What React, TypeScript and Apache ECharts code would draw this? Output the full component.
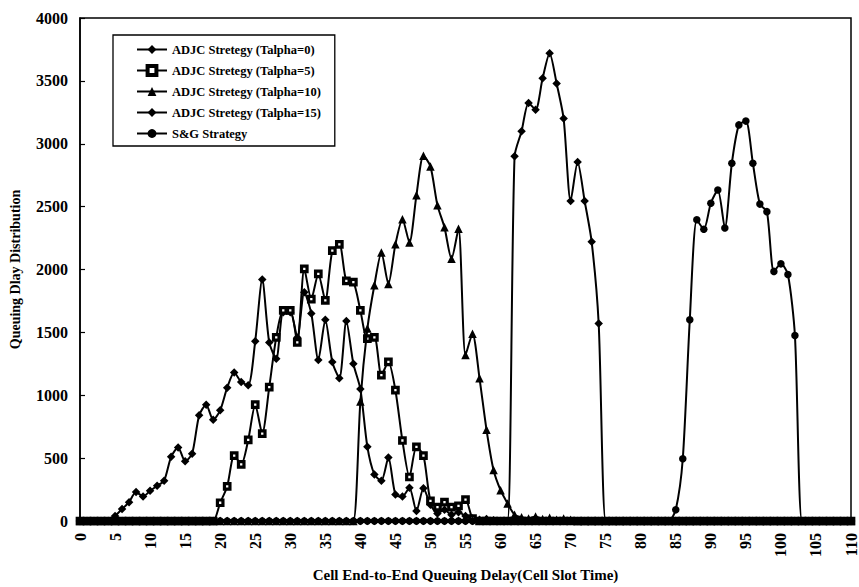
import React, { useEffect, useRef } from "react";
import * as echarts from "echarts";

// Cell end-to-end queuing delay (cell slot time), 0..110
const delays: number[] = Array.from({ length: 111 }, (_, i) => i);

const xTicks = { min: 0, max: 110, interval: 5 };
const yTicks = { min: 0, max: 4000, interval: 500 };

const seriesNames = [
  "ADJC Stretegy (Talpha=0)",
  "ADJC Stretegy (Talpha=5)",
  "ADJC Stretegy (Talpha=10)",
  "ADJC Stretegy (Talpha=15)",
  "S&G Strategy",
];

const talpha0 = [
  0, 0, 0, 0, 0, 40, 95, 150, 230, 195,
  240, 280, 320, 510, 585, 475, 535, 840, 925, 805,
  880, 1060, 1180, 1105, 1080, 1430, 1920, 1420, 1290, 1660,
  1660, 1460, 1820, 1650, 1280, 1600, 1265, 1135, 1590, 1250,
  1050, 590, 370, 320, 505, 210, 195, 265, 80, 260,
  130, 60, 90, 50, 70, 40, 20, 10, 15, 5,
  0, 0, 0, 0, 0, 0, 0, 0, 0, 0,
  0, 0, 0, 0, 0, 0, 0, 0, 0, 0,
  0, 0, 0, 0, 0, 0, 0, 0, 0, 0,
  0, 0, 0, 0, 0, 0, 0, 0, 0, 0,
  0, 0, 0, 0, 0, 0, 0, 0, 0, 0,
  0,
];

const talpha5 = [
  0, 0, 0, 0, 0, 0, 0, 0, 0, 0,
  0, 0, 0, 0, 0, 0, 0, 0, 0, 0,
  145, 275, 520, 450, 645, 925, 695, 1065, 1460, 1675,
  1675, 1420, 2005, 1765, 1965, 1755, 2150, 2200, 1910, 1900,
  1675, 1450, 1460, 1160, 1265, 1040, 640, 350, 590, 520,
  160, 110, 150, 110, 120, 170, 20, 0, 0, 0,
  0, 0, 0, 0, 0, 0, 0, 0, 0, 0,
  0, 0, 0, 0, 0, 0, 0, 0, 0, 0,
  0, 0, 0, 0, 0, 0, 0, 0, 0, 0,
  0, 0, 0, 0, 0, 0, 0, 0, 0, 0,
  0, 0, 0, 0, 0, 0, 0, 0, 0, 0,
  0,
];

const talpha10 = [
  0, 0, 0, 0, 0, 0, 0, 0, 0, 0,
  0, 0, 0, 0, 0, 0, 0, 0, 0, 0,
  0, 0, 0, 0, 0, 0, 0, 0, 0, 0,
  0, 0, 0, 0, 0, 0, 0, 0, 0, 0,
  950, 1530, 1875, 2135, 1885, 2200, 2400, 2215, 2590, 2905,
  2820, 2510, 2335, 2085, 2325, 1320, 1490, 1135, 725, 405,
  245, 140, 50, 30, 20, 35, 15, 25, 10, 20,
  10, 0, 0, 0, 0, 0, 0, 0, 0, 0,
  0, 0, 0, 0, 0, 0, 0, 0, 0, 0,
  0, 0, 0, 0, 0, 0, 0, 0, 0, 0,
  0, 0, 0, 0, 0, 0, 0, 0, 0, 0,
  0,
];

const talpha15 = [
  0, 0, 0, 0, 0, 0, 0, 0, 0, 0,
  0, 0, 0, 0, 0, 0, 0, 0, 0, 0,
  0, 0, 0, 0, 0, 0, 0, 0, 0, 0,
  0, 0, 0, 0, 0, 0, 0, 0, 0, 0,
  0, 0, 0, 0, 0, 0, 0, 0, 0, 0,
  0, 0, 0, 0, 0, 0, 0, 0, 0, 0,
  0, 0, 2900, 3100, 3325, 3270, 3520, 3720, 3480, 3200,
  2545, 2855, 2545, 2220, 1570, 0, 0, 0, 0, 0,
  0, 0, 0, 0, 0, 0, 0, 0, 0, 0,
  0, 0, 0, 0, 0, 0, 0, 0, 0, 0,
  0, 0, 0, 0, 0, 0, 0, 0, 0, 0,
  0,
];

const sgStrategy = [
  0, 0, 0, 0, 0, 0, 0, 0, 0, 0,
  0, 0, 0, 0, 0, 0, 0, 0, 0, 0,
  0, 0, 0, 0, 0, 0, 0, 0, 0, 0,
  0, 0, 0, 0, 0, 0, 0, 0, 0, 0,
  0, 0, 0, 0, 0, 0, 0, 0, 0, 0,
  0, 0, 0, 0, 0, 0, 0, 0, 0, 0,
  0, 0, 0, 0, 0, 0, 0, 0, 0, 0,
  0, 0, 0, 0, 0, 0, 0, 0, 0, 0,
  0, 0, 0, 0, 0, 90, 495, 1600, 2395, 2320,
  2527, 2632, 2330, 2845, 3150, 3180, 2845, 2520, 2460, 1985,
  2045, 1960, 1475, 0, 0, 0, 0, 0, 0, 0,
  0,
];

const allValues = [talpha0, talpha5, talpha10, talpha15, sgStrategy];
const symbols = ["diamond", "rect", "triangle", "diamond", "circle"];

const FONT = "'Liberation Serif', 'Times New Roman', serif";

export default function App() {
  const ref = useRef<HTMLDivElement>(null);

  useEffect(() => {
    if (!ref.current) return;
    const chart = echarts.init(ref.current, undefined, { renderer: "svg" });

    const series = allValues.map((vals, i) => {
      const isSquare = symbols[i] === "rect";
      return {
        name: seriesNames[i],
        type: "line",
        data: delays.map((d, k) => [d, vals[k]]),
        symbol: symbols[i],
        symbolSize: isSquare ? 5.5 : symbols[i] === "circle" ? 7.5 : 8.5,
        showSymbol: true,
        showAllSymbol: true,
        smooth: 0.25,
        lineStyle: { color: "#000", width: 2 },
        itemStyle: isSquare
          ? { color: "#fff", borderColor: "#000", borderWidth: 3.2 }
          : { color: "#000", borderColor: "#000", borderWidth: 0 },
        emphasis: { disabled: true },
        z: 2 + i,
      };
    });

    const legendData = seriesNames.map((name, i) =>
      symbols[i] === "rect"
        ? { name, itemStyle: { color: "#fff", borderColor: "#000", borderWidth: 4 } }
        : { name }
    );

    const option: any = {
      animation: false,
      backgroundColor: "#fff",
      grid: {
        left: 78.5,
        right: 0,
        top: 18,
        bottom: 64,
        show: true,
        borderColor: "#000",
        borderWidth: 1.5,
        backgroundColor: "transparent",
      },
      legend: {
        orient: "vertical",
        left: 113,
        top: 35,
        itemWidth: 30,
        itemHeight: 11,
        itemGap: 8,
        padding: [8, 14, 6, 23],
        borderColor: "#000",
        borderWidth: 1.3,
        backgroundColor: "#fff",
        textStyle: {
          fontFamily: FONT,
          fontWeight: "bold",
          fontSize: 12.5,
          lineHeight: 12,
          color: "#000",
        },
        data: legendData,
      },
      xAxis: {
        type: "value",
        min: xTicks.min,
        max: xTicks.max,
        interval: xTicks.interval,
        name: "Cell End-to-End Queuing Delay(Cell Slot Time)",
        nameLocation: "middle",
        nameGap: 46,
        nameTextStyle: {
          fontFamily: FONT,
          fontWeight: "bold",
          fontSize: 15,
          color: "#000",
        },
        axisLine: { show: true, lineStyle: { color: "#000", width: 4 } },
        axisTick: { show: false },
        axisLabel: {
          rotate: 90,
          margin: 12,
          fontFamily: FONT,
          fontWeight: "bold",
          fontSize: 16,
          color: "#000",
          formatter: (v: number) => String(v),
        },
        splitLine: { show: false },
      },
      yAxis: {
        type: "value",
        min: yTicks.min,
        max: yTicks.max,
        interval: yTicks.interval,
        name: "Queuing Dlay Distribution",
        nameLocation: "middle",
        nameGap: 58,
        nameTextStyle: {
          fontFamily: FONT,
          fontWeight: "bold",
          fontSize: 14,
          color: "#000",
        },
        axisLine: { show: true, lineStyle: { color: "#000", width: 1.5 } },
        axisTick: {
          show: true,
          inside: true,
          length: 5,
          lineStyle: { color: "#000", width: 1.2 },
        },
        axisLabel: {
          margin: 12,
          fontFamily: FONT,
          fontWeight: "bold",
          fontSize: 16,
          color: "#000",
          formatter: (v: number) => String(v),
        },
        splitLine: { show: false },
      },
      series,
    };

    chart.setOption(option);
    return () => chart.dispose();
  }, []);

  return (
    <div
      ref={ref}
      style={{
        position: "fixed",
        left: 0,
        top: 0,
        width: 859,
        height: 587,
        background: "#fff",
      }}
    />
  );
}
